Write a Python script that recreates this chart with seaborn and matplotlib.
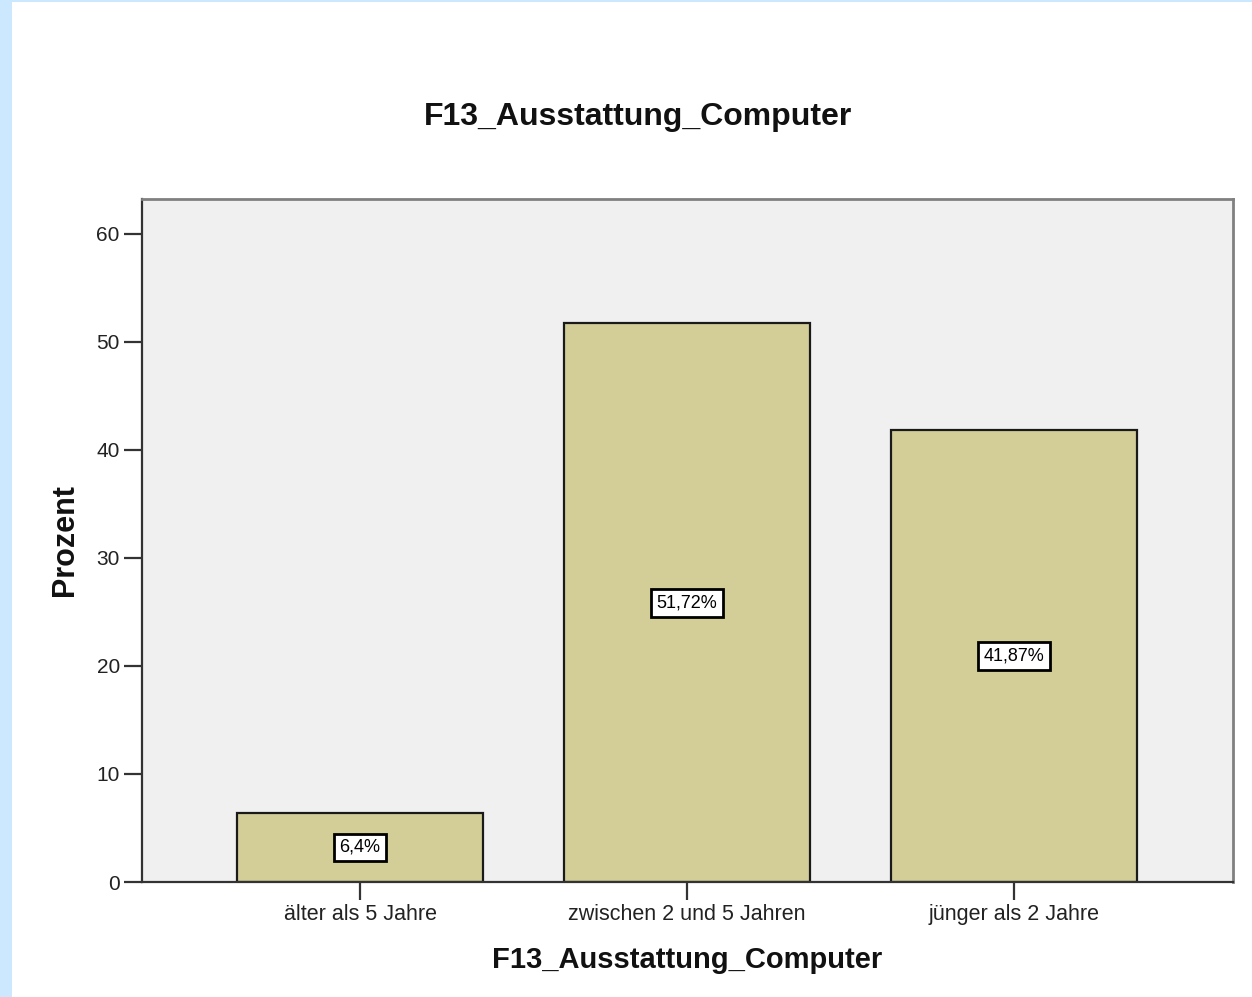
import matplotlib
matplotlib.use("Agg")
import matplotlib.pyplot as plt
import seaborn as sns
import pandas as pd
from matplotlib.patches import Rectangle

categories = ["älter als 5 Jahre", "zwischen 2 und 5 Jahren", "jünger als 2 Jahre"]
percent = [6.4, 51.72, 41.87]
value_labels = ["6,4%", "51,72%", "41,87%"]
yticks = [0, 10, 20, 30, 40, 50, 60]
title = "F13_Ausstattung_Computer"
xlabel = "F13_Ausstattung_Computer"
ylabel = "Prozent"

sns.set_theme(style="white")
plt.rcParams["font.family"] = ["Liberation Sans", "DejaVu Sans"]

df = pd.DataFrame({"cat": categories, "pct": percent})

fig = plt.figure(figsize=(12.52, 9.97), dpi=100)
fig.patch.set_facecolor("white")
# light blue frame strips
fig.patches.append(Rectangle((0, 0), 12 / 1252, 1, transform=fig.transFigure,
                             facecolor="#CCE8FF", edgecolor="none", zorder=0))
fig.patches.append(Rectangle((0, 1 - 2 / 997), 1, 2 / 997, transform=fig.transFigure,
                             facecolor="#CCE8FF", edgecolor="none", zorder=0))

ax = fig.add_axes([142 / 1252, 1 - 882 / 997, (1233 - 142) / 1252, (882 - 199) / 997])
ax.set_facecolor("#F0F0F0")

sns.barplot(data=df, x="cat", y="pct", ax=ax, color="#D3CE97", width=0.752,
            edgecolor="#1a1a1a", linewidth=1.6, saturation=1)

ax.set_xlim(-0.667, 2.67)
ax.set_ylim(0, 63.24)
ax.set_yticks(yticks)
ax.set_yticklabels([str(t) for t in yticks], fontsize=15, color="#222222")
ax.set_xticks(range(len(categories)))
ax.set_xticklabels(categories, fontsize=15.5, color="#222222")
ax.tick_params(axis="both", which="major", direction="out", length=13, width=1.6,
               color="#333333", left=True, bottom=True)
ax.tick_params(axis="x", pad=3)
ax.tick_params(axis="y", pad=3)

for side in ["left", "bottom"]:
    ax.spines[side].set_color("#333333")
    ax.spines[side].set_linewidth(1.6)
for side in ["top", "right"]:
    ax.spines[side].set_color("#808080")
    ax.spines[side].set_linewidth(2.0)

ax.set_xlabel(xlabel, fontsize=21, fontweight="bold", labelpad=15, color="#111111")
ax.set_ylabel(ylabel, fontsize=22, fontweight="bold", labelpad=12, color="#111111")

for i, (v, lab) in enumerate(zip(percent, value_labels)):
    ax.text(i, v / 2, lab, ha="center", va="center", fontsize=13, color="black",
            bbox=dict(boxstyle="square,pad=0.3", facecolor="white",
                      edgecolor="black", linewidth=2.0))

fig.text(638 / 1252, 1 - 117 / 997, title, ha="center", va="center",
         fontsize=23, fontweight="bold", color="#111111")

fig.savefig("out.png", dpi=100, facecolor="white")
